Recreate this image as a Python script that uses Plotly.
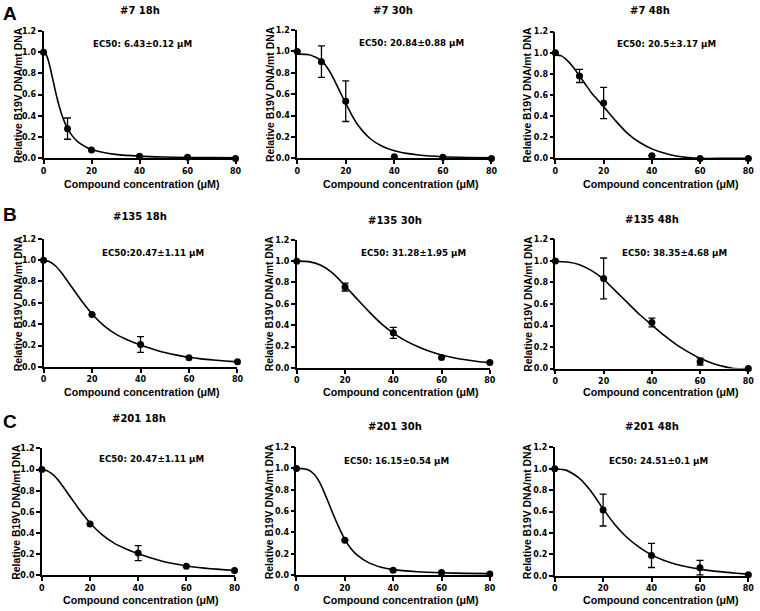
import plotly.graph_objects as go

# ---------------- data ----------------
conc_7 = [0, 10, 20, 40, 60, 80]
conc_135 = [0, 20, 40, 60, 80]
conc_201 = [0, 20, 40, 60, 80]

# measured points (mean) and error (SD), None = no visible bar
c7_18h_mean = [1.0, 0.28, 0.08, 0.02, 0.01, 0.0]
c7_18h_err = [None, 0.10, None, None, None, None]
c7_30h_mean = [1.0, 0.905, 0.535, 0.015, 0.01, 0.0]
c7_30h_err = [None, 0.147, 0.19, None, None, None]
c7_48h_mean = [1.0, 0.78, 0.525, 0.025, 0.0, 0.0]
c7_48h_err = [None, 0.062, 0.148, None, None, None]

c135_18h_mean = [1.0, 0.49, 0.21, 0.086, 0.048]
c135_18h_err = [None, None, 0.074, None, None]
c135_30h_mean = [1.0, 0.757, 0.328, 0.097, 0.05]
c135_30h_err = [None, 0.037, 0.052, None, None]
c135_48h_mean = [1.0, 0.838, 0.428, 0.064, 0.0]
c135_48h_err = [None, 0.19, 0.041, 0.032, None]

c201_18h_mean = [1.0, 0.487, 0.211, 0.087, 0.047]
c201_18h_err = [None, None, 0.071, None, None]
c201_30h_mean = [1.0, 0.327, 0.047, 0.025, 0.01]
c201_30h_err = [None, None, None, None, None]
c201_48h_mean = [1.0, 0.614, 0.19, 0.075, 0.009]
c201_48h_err = [None, 0.149, 0.113, 0.068, None]

# fitted dose-response curves
fit_7_18h_x = [0, 1, 2, 3, 4, 5, 6, 7, 8, 9, 10, 12, 14, 16, 18, 20, 25, 30, 40, 50, 60, 70, 80]
fit_7_18h_y = [1.0, 0.98, 0.921, 0.832, 0.73, 0.629, 0.536, 0.456, 0.387, 0.33, 0.283, 0.212,
               0.163, 0.129, 0.103, 0.084, 0.055, 0.038, 0.021, 0.013, 0.009, 0.007, 0.005]
fit_7_30h_x = [0, 5, 10, 12.5, 15, 17.5, 20, 22.5, 25, 30, 35, 40, 45, 50, 60, 70, 80]
fit_7_30h_y = [0.975, 0.970, 0.915, 0.846, 0.747, 0.629, 0.515, 0.405, 0.312, 0.186, 0.113,
               0.071, 0.047, 0.032, 0.016, 0.009, 0.0055]
fit_7_48h_x = [0, 2.5, 5, 7.5, 10, 12.5, 15, 17.5, 20, 25, 30, 35, 40, 45, 50, 55, 60, 70, 80]
fit_7_48h_y = [0.98, 0.97, 0.925, 0.86, 0.78, 0.70, 0.62, 0.555, 0.49, 0.355, 0.235, 0.15,
               0.09, 0.05, 0.022, 0.007, 0.0, 0.0, 0.0]

fit_135_18h_x = [0, 2.5, 5, 7.5, 10, 12.5, 15, 17.5, 20, 25, 30, 35, 40, 45, 50, 55, 60, 65, 70, 75, 80]
fit_135_18h_y = [1.0, 0.985, 0.945, 0.88, 0.80, 0.72, 0.64, 0.565, 0.495, 0.385, 0.305, 0.25,
                 0.205, 0.168, 0.135, 0.11, 0.09, 0.075, 0.064, 0.055, 0.047]
fit_135_30h_x = [0, 5, 10, 15, 20, 25, 30, 35, 40, 45, 50, 55, 60, 65, 70, 75, 80]
fit_135_30h_y = [1.0, 0.995, 0.962, 0.885, 0.77, 0.645, 0.525, 0.415, 0.325, 0.255, 0.20,
                 0.155, 0.12, 0.095, 0.076, 0.06, 0.048]
fit_135_48h_x = [0, 5, 10, 15, 20, 25, 30, 35, 40, 45, 50, 55, 60, 65, 70, 74, 80]
fit_135_48h_y = [0.995, 0.99, 0.965, 0.91, 0.83, 0.72, 0.61, 0.50, 0.405, 0.31, 0.225, 0.155,
                 0.095, 0.05, 0.018, 0.0, 0.0]

fit_201_18h_x = [0, 2.5, 5, 7.5, 10, 12.5, 15, 17.5, 20, 25, 30, 35, 40, 45, 50, 55, 60, 65, 70, 75, 80]
fit_201_18h_y = [1.0, 0.985, 0.945, 0.88, 0.80, 0.72, 0.64, 0.565, 0.495, 0.385, 0.305, 0.25,
                 0.205, 0.168, 0.135, 0.11, 0.09, 0.075, 0.064, 0.055, 0.047]
fit_201_30h_x = [0, 2.5, 5, 7.5, 10, 12.5, 15, 17.5, 20, 22.5, 25, 30, 35, 40, 50, 60, 70, 80]
fit_201_30h_y = [1.0, 0.998, 0.985, 0.94, 0.85, 0.72, 0.58, 0.45, 0.335, 0.25, 0.19, 0.115,
                 0.075, 0.052, 0.032, 0.022, 0.017, 0.014]
fit_201_48h_x = [0, 5, 10, 15, 20, 25, 30, 35, 40, 45, 50, 55, 60, 65, 70, 75, 80]
fit_201_48h_y = [1.0, 0.985, 0.915, 0.79, 0.625, 0.475, 0.355, 0.265, 0.195, 0.145, 0.108,
                 0.082, 0.062, 0.046, 0.034, 0.024, 0.015]

panel_titles = ["#7 18h", "#7 30h", "#7 48h",
                "#135 18h", "#135 30h", "#135 48h",
                "#201 18h", "#201 30h", "#201 48h"]
ec50_labels = ["EC50: 6.43±0.12 μM", "EC50: 20.84±0.88 μM", "EC50: 20.5±3.17 μM",
               "EC50:20.47±1.11 μM", "EC50: 31.28±1.95 μM", "EC50: 38.35±4.68 μM",
               "EC50: 20.47±1.11 μM", "EC50: 16.15±0.54 μM", "EC50: 24.51±0.1 μM"]
row_letters = ["A", "B", "C"]
x_ticks = [0, 20, 40, 60, 80]
y_ticks = [0.0, 0.2, 0.4, 0.6, 0.8, 1.0, 1.2]
x_title = "Compound concentration (μM)"
y_title = "Relative B19V DNA/mt DNA"

# ---------------- layout (pixels) ----------------
W, H = 760, 611
# plot boxes: x_left, x_right, y_top, y_bottom
boxes = [
    (41, 235.3, 27.3, 156.7), (297.7, 494.3, 26.5, 156.7), (559, 754.3, 28, 156.7),
    (41, 237.3, 238.3, 368.3), (297.3, 492.7, 239.3, 369.3), (559, 754.3, 239, 370),
    (39.3, 234.3, 451, 580), (297, 492.7, 449.7, 579.7), (558.3, 754.3, 450, 580.3),
]
title_pos = [(138.3, 7), (394.3, 7), (654.5, 7),
             (138.3, 216), (397, 219.3), (656.7, 218.3),
             (137.2, 420.7), (396.7, 429.3), (656.7, 429.3)]
ec50_pos = [(141.5, 41), (413.7, 40), (671, 40.7),
            (152, 252.3), (415.5, 252.7), (680, 252.3),
            (150, 462.3), (398, 464.3), (663, 464.3)]
ytitle_pos = [(15.5, 92), (270, 91.5), (531, 92.3),
              (15.5, 303.5), (270, 304), (531, 304.5),
              (14, 515.5), (270, 515), (531, 515)]
xtitle_pos = [(140.8, 182.7), (402.5, 182.7), (666, 182.7),
              (140.8, 393.5), (403, 394.3), (666, 394.3),
              (140, 605), (402.5, 605), (666, 605)]
letter_pos = [(7.5, 9.5), (7, 213.5), (7, 423.5)]

curves = [(fit_7_18h_x, fit_7_18h_y), (fit_7_30h_x, fit_7_30h_y), (fit_7_48h_x, fit_7_48h_y),
          (fit_135_18h_x, fit_135_18h_y), (fit_135_30h_x, fit_135_30h_y), (fit_135_48h_x, fit_135_48h_y),
          (fit_201_18h_x, fit_201_18h_y), (fit_201_30h_x, fit_201_30h_y), (fit_201_48h_x, fit_201_48h_y)]
points = [(conc_7, c7_18h_mean, c7_18h_err), (conc_7, c7_30h_mean, c7_30h_err),
          (conc_7, c7_48h_mean, c7_48h_err),
          (conc_135, c135_18h_mean, c135_18h_err), (conc_135, c135_30h_mean, c135_30h_err),
          (conc_135, c135_48h_mean, c135_48h_err),
          (conc_201, c201_18h_mean, c201_18h_err), (conc_201, c201_30h_mean, c201_30h_err),
          (conc_201, c201_48h_mean, c201_48h_err)]


def px(x):
    return x / W


def py(y):
    return 1 - y / H


tick_font = dict(family="DejaVu Sans", size=8, color="black", weight="bold")
fig = go.Figure()
layout = dict(width=W, height=H, margin=dict(l=0, r=0, t=0, b=0),
              paper_bgcolor="white", plot_bgcolor="white", showlegend=False)
annotations = []

for i in range(9):
    s = "" if i == 0 else str(i + 1)
    cx, cy = curves[i]
    fig.add_trace(go.Scatter(x=cx, y=cy, mode="lines", xaxis="x" + s, yaxis="y" + s,
                             line=dict(color="black", width=1.6, shape="spline", smoothing=0.6),
                             hoverinfo="skip"))
    xs, ys, es = points[i]
    fig.add_trace(go.Scatter(x=xs, y=ys, mode="markers", xaxis="x" + s, yaxis="y" + s,
                             marker=dict(color="black", size=7),
                             error_y=dict(type="data", array=es, visible=True, color="black",
                                          thickness=1.3, width=3.5),
                             cliponaxis=False))
    x0, x1, yt, yb = boxes[i]
    layout["xaxis" + s] = dict(domain=[px(x0), px(x1)], range=[0, 80], anchor="y" + s,
                               tickvals=x_ticks, ticks="outside", ticklen=4, tickwidth=1.5,
                               tickcolor="black", showline=True, linecolor="black", linewidth=1.5,
                               showgrid=False, zeroline=False, tickfont=tick_font, fixedrange=True)
    layout["yaxis" + s] = dict(domain=[py(yb), py(yt)], range=[0, 1.2], anchor="x" + s,
                               tickvals=y_ticks, tickformat=".1f", ticks="outside", ticklen=4,
                               tickwidth=1.5, tickcolor="black", showline=True, linecolor="black",
                               linewidth=1.5, showgrid=False, zeroline=False, tickfont=tick_font,
                               fixedrange=True)
    tx, ty = title_pos[i]
    annotations.append(dict(text=panel_titles[i], x=px(tx), y=py(ty), xref="paper", yref="paper",
                            xanchor="center", yanchor="middle", showarrow=False,
                            font=dict(family="DejaVu Sans", size=10, color="black", weight="bold")))
    ex, ey = ec50_pos[i]
    annotations.append(dict(text=ec50_labels[i], x=px(ex), y=py(ey), xref="paper", yref="paper",
                            xanchor="center", yanchor="middle", showarrow=False,
                            font=dict(family="DejaVu Sans", size=8.7, color="black", weight="bold")))
    yx, yy = ytitle_pos[i]
    annotations.append(dict(text=y_title, x=px(yx), y=py(yy), xref="paper", yref="paper",
                            xanchor="center", yanchor="middle", showarrow=False, textangle=-90,
                            font=dict(family="Liberation Sans", size=10.4, color="black", weight="bold")))
    xx, xy = xtitle_pos[i]
    annotations.append(dict(text=x_title, x=px(xx), y=py(xy), xref="paper", yref="paper",
                            xanchor="center", yanchor="middle", showarrow=False,
                            font=dict(family="Liberation Sans", size=10.7, color="black", weight="bold")))

for letter, (lx, ly) in zip(row_letters, letter_pos):
    annotations.append(dict(text=letter, x=px(lx), y=py(ly), xref="paper", yref="paper",
                            xanchor="center", yanchor="middle", showarrow=False,
                            font=dict(family="Liberation Sans", size=19, color="black", weight="bold")))

layout["annotations"] = annotations
fig.update_layout(**layout)
# remove the browser's default 8px body margin so the figure sits at the page origin
fig.write_html("out.html", config={"displayModeBar": False},
               post_script="document.body.style.margin='0px';document.body.style.overflow='hidden';")
